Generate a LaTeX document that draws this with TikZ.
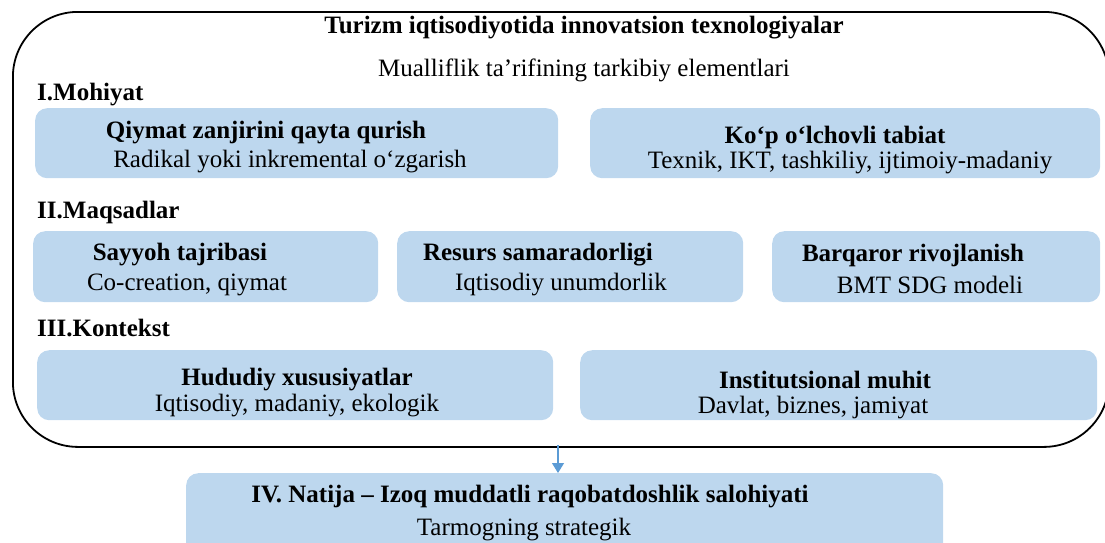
\documentclass[tikz,border=0pt]{standalone}
\usepackage{fontspec}
\setmainfont{Liberation Serif}
\usetikzlibrary{positioning, arrows.meta}
\definecolor{partblue}{HTML}{BDD7EE}
\definecolor{arrowblue}{HTML}{5B9BD5}
\tikzset{
x=1pt, y=-1pt, % one unit is one pixel of the layout
every node/.style={font=\fontsize{25}{29}\selectfont, inner sep=0pt}, % text size of the whole scheme
part/.style={fill=partblue, rounded corners=12pt, anchor=north west}, % the blue boxes
head/.style={font=\fontsize{25}{29}\selectfont\bfseries}, % bold first line of a box
sect/.style={font=\fontsize{25}{29}\selectfont\bfseries, anchor=west}, % section headings I-III
}

\begin{document}
\begin{tikzpicture}
  \clip (0,0) rectangle (1105,542);

  % outer frame
  \node[draw, line width=1.8pt, rounded corners=65pt, anchor=north west,
        minimum width=1096, minimum height=435] (frame) at (12,11) {};
  \node[head] (title) at (584,28) {Turizm iqtisodiyotida innovatsion texnologiyalar};
  \node (subtitle) at (584,70) {Mualliflik ta’rifining tarkibiy elementlari};

  % I
  \node[sect] (mohiyat) at (37,95) {I.Mohiyat};
  \node[part, minimum width=523, minimum height=70] (qiymat) at (35,108) {};
  \node[head] at (266,133) {Qiymat zanjirini qayta qurish};
  \node at (290,162) {Radikal yoki inkremental o‘zgarish};
  \node[part, minimum width=510, minimum height=70] (kop) at (590,108) {};
  \node[head] at (835,137) {Ko‘p o‘lchovli tabiat};
  \node at (850,163) {Texnik, IKT, tashkiliy, ijtimoiy-madaniy};

  % II
  \node[sect] (maqsad) at (37,212) {II.Maqsadlar};
  \node[part, minimum width=345, minimum height=71] (sayyoh) at (33,231) {};
  \node[head] at (180,255) {Sayyoh tajribasi};
  \node at (187,285) {Co-creation, qiymat};
  \node[part, minimum width=346, minimum height=71] (resurs) at (397,231) {};
  \node[head] at (538,255) {Resurs samaradorligi};
  \node at (561,285) {Iqtisodiy unumdorlik};
  \node[part, minimum width=328, minimum height=71] (barqaror) at (772,231) {};
  \node[head] at (913,255) {Barqaror rivojlanish};
  \node at (930,285) {BMT SDG modeli};

  % III
  \node[sect] (kontekst) at (37,328) {III.Kontekst};
  \node[part, minimum width=516, minimum height=70] (hudud) at (37,350) {};
  \node[head] at (297,380) {Hududiy xususiyatlar};
  \node at (297,406) {Iqtisodiy, madaniy, ekologik};
  \node[part, minimum width=517, minimum height=70] (instit) at (580,350) {};
  \node[head] at (825,380) {Institutsional muhit};
  \node at (813,408) {Davlat, biznes, jamiyat};

  % IV
  \node[part, minimum width=757, minimum height=90] (natija) at (186,473) {};
  \node[head] at (530,497) {IV. Natija – Izoq muddatli raqobatdoshlik salohiyati};
  \node at (524,530) {Tarmogning strategik};

  \coordinate (out) at (558,445);
  \draw[arrowblue, line width=1.2pt, -{Triangle[width=12pt,length=10pt]}] (out) -- (out |- natija.north);
\end{tikzpicture}
\end{document}
